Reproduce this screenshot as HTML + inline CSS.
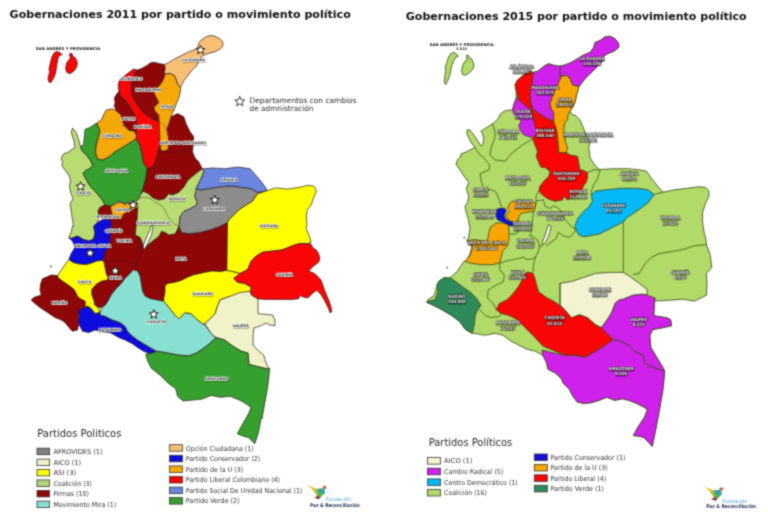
<!DOCTYPE html>
<html><head><meta charset="utf-8"><title>Gobernaciones 2011 y 2015</title>
<style>
html,body{margin:0;padding:0;background:#fff;}
svg{display:block;}
.t{font-family:"DejaVu Sans","Liberation Sans",sans-serif;}
.lab{font-family:"DejaVu Sans",sans-serif;font-weight:bold;font-size:3.6px;fill:#3a3a3a;stroke:#fff;stroke-width:1.3px;stroke-opacity:0.9;paint-order:stroke;text-anchor:middle;dominant-baseline:central;}
.labs{font-family:"DejaVu Sans",sans-serif;font-weight:bold;font-size:3.6px;fill:#000;stroke:#000;stroke-width:1.3px;opacity:0.35;text-anchor:middle;dominant-baseline:central;}
.lab2{font-family:"DejaVu Sans Condensed","DejaVu Sans",sans-serif;font-weight:bold;font-size:4.3px;fill:#f4f4f4;fill-opacity:0.8;stroke:#383838;stroke-width:0.75px;stroke-opacity:0.8;paint-order:stroke;text-anchor:middle;}
.lab2s{font-family:"DejaVu Sans Condensed","DejaVu Sans",sans-serif;font-weight:bold;font-size:4.3px;fill:#000;stroke:#000;stroke-width:1.3px;opacity:0.4;text-anchor:middle;}
.leg{font-family:"DejaVu Sans",sans-serif;font-size:7.6px;fill:#2a2a2a;}
.li{font-family:"DejaVu Sans",sans-serif;font-size:6.8px;fill:#333;}
</style></head><body>
<svg width="768" height="527" viewBox="0 0 768 527">
<defs><filter id="sb" x="-20%" y="-50%" width="140%" height="200%"><feGaussianBlur stdDeviation="0.45"/></filter></defs>
<filter id="soft" x="0" y="0" width="768" height="527" filterUnits="userSpaceOnUse" color-interpolation-filters="sRGB"><feConvolveMatrix order="3" kernelMatrix="1 2 1 2 8 2 1 2 1" edgeMode="duplicate"/></filter>
<rect width="768" height="527" fill="#fff"/>
<g filter="url(#soft)">

<text class="t" x="9.6" y="18" font-size="11.05" font-weight="bold" fill="#111" textLength="341.2" lengthAdjust="spacingAndGlyphs">Gobernaciones 2011 por partido o movimiento político</text>
<text class="t" x="405.7" y="19.7" font-size="11.05" font-weight="bold" fill="#111" textLength="341" lengthAdjust="spacingAndGlyphs">Gobernaciones 2015 por partido o movimiento político</text>
<g stroke="#2a1a1a" stroke-width="0.7" stroke-linejoin="round">
<polygon fill="#f90505" points="56.60,51.40 59.40,52.30 62.30,54.70 60.40,55.20 58.50,56.60 57.50,60.90 56.60,66.60 55.60,73.20 53.70,78.00 50.90,82.70 48.50,81.80 48.00,78.00 49.50,72.30 49.00,68.50 50.40,62.80 51.80,57.10 54.20,52.80"/>
<polygon fill="#f90505" points="69.90,53.30 72.30,53.80 72.70,56.10 75.60,58.00 77.50,62.80 76.50,67.50 73.70,71.30 69.90,73.70 66.60,72.30 65.60,68.50 66.60,62.80 68.90,60.00 70.40,57.60 69.40,55.20"/>
<polygon fill="#b9dc72" points="72.50,128.10 76.25,132.50 78.75,140.00 80.50,146.40 82.00,150.60 86.30,154.90 90.50,160.20 92.70,165.50 89.50,168.70 85.20,170.80 83.10,172.90 84.20,176.10 86.30,179.30 88.40,183.50 91.60,187.80 95.80,192.00 99.00,196.00 102.50,200.00 105.00,205.00 100.00,207.50 98.10,211.25 99.40,216.25 97.50,222.50 93.75,226.00 95.00,233.50 93.75,238.50 90.00,241.00 83.75,239.75 77.50,236.00 71.25,238.50 68.75,237.25 71.25,232.25 72.50,226.00 73.75,226.25 72.50,220.00 71.25,211.25 70.00,203.75 73.10,198.75 70.60,192.50 69.40,186.25 70.60,180.00 68.75,175.00 65.00,170.00 62.00,166.00 62.50,162.50 61.25,157.50 63.75,153.75 67.50,152.50 75.00,147.50 73.75,140.00 71.25,132.50"/>
<polygon fill="#35a02e" points="85.00,129.40 90.00,127.50 96.25,123.00 97.50,125.00 100.00,130.00 98.75,136.25 96.25,145.00 95.60,152.50 97.50,158.75 102.50,160.00 110.00,156.25 113.75,152.50 120.00,148.75 126.25,145.00 132.50,141.25 136.50,137.80 137.50,141.00 140.00,145.00 142.25,155.00 143.50,162.50 147.25,168.75 146.00,177.50 143.50,187.50 141.00,193.75 138.50,198.75 136.25,201.25 130.00,201.25 125.00,203.75 120.00,201.25 116.25,202.50 110.00,206.25 105.00,205.00 102.50,200.00 99.00,196.00 95.80,192.00 91.60,187.80 88.40,183.50 86.30,179.30 84.20,176.10 83.10,172.90 85.20,170.80 89.50,168.70 92.70,165.50 90.50,160.20 86.30,154.90 82.00,150.60 80.50,146.40 83.50,145.00 84.00,140.00 84.50,135.00"/>
<polygon fill="#f5a80a" points="106.25,110.00 112.50,108.75 116.25,110.60 121.25,115.00 122.50,121.25 125.00,126.25 128.75,130.00 135.00,131.25 136.30,133.50 136.50,137.80 132.50,141.25 126.25,145.00 120.00,148.75 113.75,152.50 110.00,156.25 102.50,160.00 97.50,158.75 95.60,152.50 96.25,145.00 98.75,136.25 100.00,130.00 97.50,125.00 97.50,122.50 101.25,120.00 104.00,114.00"/>
<polygon fill="#8e0606" points="118.90,91.50 121.20,96.80 125.50,100.60 129.50,105.90 132.00,110.40 134.50,114.00 136.20,119.00 136.50,125.00 136.40,130.00 136.30,133.50 135.60,134.00 135.00,131.25 128.75,130.00 125.00,126.25 122.50,121.25 121.25,115.00 116.25,110.60 115.90,109.70 114.30,105.90 115.10,102.80 114.30,98.30 115.90,95.20 117.50,93.00"/>
<polygon fill="#f90505" points="120.25,79.10 125.90,74.75 133.40,69.10 137.10,70.00 134.00,75.00 132.00,81.60 131.50,89.00 132.50,96.00 135.00,101.00 138.50,106.00 141.00,110.00 143.50,112.50 148.30,115.90 152.80,119.00 157.40,120.50 159.70,122.80 160.40,130.30 160.50,133.00 160.00,145.50 158.50,150.00 156.60,157.50 154.75,163.75 151.00,167.50 147.25,168.75 143.50,162.50 142.25,155.00 140.00,145.00 137.50,141.00 136.50,137.80 136.30,133.50 136.40,130.00 136.50,125.00 136.20,119.00 134.50,114.00 132.00,110.40 129.50,105.90 125.50,100.60 121.20,96.80 118.90,91.50 118.10,86.10 118.90,81.60"/>
<polygon fill="#8e0606" points="137.10,70.00 141.50,68.50 147.10,65.40 150.25,62.90 154.00,62.25 160.25,63.75 164.60,64.50 165.25,68.50 164.00,73.50 165.25,74.10 162.75,81.00 159.00,86.00 155.25,90.40 153.75,92.00 155.00,95.00 158.75,102.50 153.75,107.50 155.00,111.25 158.75,115.00 159.70,122.80 157.40,120.50 152.80,119.00 148.30,115.90 143.50,112.50 141.00,110.00 138.50,106.00 135.00,101.00 132.50,96.00 131.50,89.00 132.00,81.60 134.00,75.00"/>
<polygon fill="#f8c074" points="198.90,43.00 201.00,40.20 205.10,37.50 207.80,36.10 211.90,35.50 216.00,36.80 220.10,38.90 222.80,42.30 222.80,46.40 220.10,49.10 214.60,51.90 209.20,53.20 205.10,54.60 201.00,57.30 198.30,62.80 195.50,66.90 191.40,71.00 187.30,76.40 183.90,80.50 181.90,84.60 180.50,87.40 177.80,84.60 176.40,80.50 175.00,76.40 170.90,73.70 166.80,73.70 165.25,74.10 164.00,73.50 165.25,68.50 164.60,64.50 168.20,62.80 173.70,59.40 180.50,56.00 187.30,52.50 192.80,50.50 197.60,47.80"/>
<polygon fill="#8e0606" points="159.00,121.00 166.90,129.25 170.00,120.50 171.25,116.75 177.50,113.60 181.25,115.50 183.75,116.75 186.25,124.25 190.00,131.75 193.75,136.75 193.10,145.50 192.50,151.75 195.00,158.00 198.75,161.75 201.25,166.75 202.25,168.75 197.25,172.50 191.00,177.50 187.25,181.25 183.50,187.50 178.50,192.50 172.25,195.00 168.50,193.75 164.75,198.75 158.50,200.00 152.25,197.50 148.50,193.75 143.50,191.25 141.00,193.75 143.50,187.50 146.00,177.50 147.25,168.75 151.00,167.50 154.75,163.75 156.60,157.50 158.50,150.00 160.00,145.50 160.50,133.00 160.00,127.00"/>
<polygon fill="#f5a80a" points="165.25,74.10 166.80,73.70 170.90,73.70 175.00,76.40 176.40,80.50 177.80,84.60 180.50,87.40 180.50,91.00 179.00,97.25 176.50,103.50 174.00,109.75 171.25,115.50 170.00,120.50 166.90,129.25 168.10,135.50 168.75,140.50 168.75,146.75 166.90,150.50 162.50,151.10 160.60,149.25 160.00,139.25 159.40,126.75 159.00,121.00 158.75,115.00 155.00,111.25 153.75,107.50 158.75,102.50 155.00,95.00 153.75,92.00 155.25,90.40 159.00,86.00 162.75,81.00"/>
<polygon fill="#8e0606" points="98.10,211.25 100.00,207.50 105.00,205.00 110.00,206.25 137.50,205.00 137.75,207.50 137.10,218.75 135.90,227.50 135.25,235.00 140.25,237.50 142.75,243.75 144.00,250.00 147.75,245.00 154.00,240.00 159.00,236.25 161.50,231.25 165.25,232.50 169.00,235.00 175.25,233.75 177.75,228.75 179.00,226.25 181.50,232.50 189.00,233.75 199.90,232.50 210.00,230.00 220.00,226.25 227.50,222.50 227.50,270.40 220.00,271.60 212.50,271.00 205.00,272.25 200.00,273.50 193.75,274.75 187.50,277.25 181.25,280.40 175.00,282.25 167.50,283.50 165.00,286.00 165.00,292.25 163.75,298.50 163.75,301.90 160.00,301.25 152.50,300.00 145.00,296.00 142.50,291.00 141.25,283.50 140.00,276.00 137.50,271.00 133.10,269.75 130.00,273.50 125.00,278.50 121.25,283.50 116.25,288.50 111.25,294.75 107.50,301.90 105.30,305.00 100.00,308.00 94.80,305.00 93.80,300.00 91.70,294.80 91.70,289.60 95.90,284.40 101.10,281.30 106.30,280.20 108.40,278.20 106.30,274.00 105.30,268.80 104.20,263.60 103.20,260.40 105.00,250.00 108.75,248.50 110.00,238.50 111.25,229.75 111.25,222.50 108.75,218.75 103.75,218.10 99.40,216.25"/>
<polygon fill="#f5a80a" points="110.25,206.50 116.50,203.40 120.25,202.20 125.00,204.40 130.00,202.50 136.50,203.40 137.75,207.50 132.75,210.00 127.50,211.80 122.75,215.00 121.50,220.00 117.75,217.50 112.50,216.25 111.25,211.25"/>
<polygon fill="#0c0cdc" points="108.75,218.75 111.25,222.50 110.50,230.00 110.00,238.50 108.75,248.50 105.30,250.00 104.20,256.30 103.20,260.40 96.90,261.00 91.70,263.00 86.50,264.60 79.20,264.10 72.90,262.50 68.80,259.40 71.25,253.50 75.00,247.25 72.50,241.00 68.75,237.90 71.25,238.50 77.50,236.00 83.75,239.75 90.00,241.00 93.75,238.50 95.00,233.50 93.75,226.00 97.50,222.50 102.50,219.40"/>
<polygon fill="#ffff00" points="68.80,259.40 72.90,262.50 79.20,264.10 86.50,264.60 91.70,263.00 96.90,261.00 103.20,260.40 104.20,263.60 105.30,268.80 106.30,274.00 108.40,278.20 106.30,280.20 101.10,281.30 95.90,284.40 91.70,289.60 91.70,294.80 93.80,300.00 94.80,305.00 98.75,308.50 100.00,312.50 95.00,313.75 91.25,308.75 87.50,306.25 85.00,307.50 85.00,301.25 80.00,298.75 77.10,295.90 74.00,289.60 68.80,285.50 62.50,281.30 57.30,277.10 59.40,272.90 63.60,266.70"/>
<polygon fill="#8e0606" points="57.50,275.50 51.25,275.00 42.50,278.75 40.60,283.75 40.00,290.00 41.25,295.00 33.75,297.50 31.25,300.00 33.75,302.50 40.00,307.50 47.50,312.50 55.00,317.50 61.25,320.00 65.00,322.50 70.00,328.75 72.50,331.25 77.50,330.00 78.75,323.75 78.10,315.00 81.25,308.75 85.00,307.50 85.00,301.25 80.00,298.75 77.10,295.90 74.00,289.60 68.80,285.50 62.50,281.30 57.30,277.10"/>
<polygon fill="#0c0cdc" points="78.75,311.25 81.25,308.75 85.00,307.50 87.50,306.25 91.25,308.75 95.00,313.75 100.00,312.50 100.00,315.00 105.00,316.25 112.50,320.00 120.00,322.50 125.00,326.25 127.50,331.25 132.50,336.25 137.50,340.00 143.75,343.75 150.00,347.50 156.00,351.50 150.00,353.75 143.75,351.25 137.50,347.50 132.50,343.75 125.00,340.00 118.75,337.50 110.00,332.50 100.00,331.25 95.00,330.00 88.75,332.50 82.50,331.25 78.75,323.75"/>
<polygon fill="#88e0d2" points="100.00,312.50 102.00,308.00 105.30,305.00 107.50,301.90 111.25,294.75 116.25,288.50 121.25,283.50 125.00,278.50 130.00,273.50 133.10,269.75 137.50,271.00 140.00,276.00 141.25,283.50 142.50,291.00 145.00,296.00 150.00,298.50 156.25,299.75 162.50,301.00 165.00,302.00 166.25,303.75 170.00,308.75 175.00,315.00 178.75,318.75 185.00,312.50 191.25,313.75 196.25,318.75 202.50,323.75 205.00,325.00 208.75,330.00 212.50,335.00 216.25,337.50 209.50,343.80 202.00,349.40 196.30,353.10 188.80,356.00 177.60,355.00 168.20,353.10 156.90,351.30 150.00,347.50 143.75,343.75 137.50,340.00 132.50,336.25 127.50,331.25 125.00,326.25 120.00,322.50 112.50,320.00 105.00,316.25 100.00,315.00"/>
<polygon fill="#b9dc72" points="136.25,201.25 138.50,198.75 141.00,193.75 143.50,191.25 148.50,193.75 152.25,197.50 158.50,200.00 164.75,198.75 168.50,193.75 172.25,195.00 178.50,192.50 183.50,187.50 187.25,181.25 191.00,177.50 197.25,172.50 202.25,168.75 204.10,171.25 201.00,178.75 197.25,186.25 196.00,191.25 194.75,196.25 197.25,202.50 196.50,205.00 190.25,208.75 184.00,211.25 180.25,216.25 179.00,226.25 177.75,228.75 175.25,233.75 169.00,235.00 165.25,232.50 161.50,231.25 159.00,236.25 154.00,240.00 147.75,245.00 144.00,250.00 142.75,243.75 140.25,237.50 135.25,235.00 135.90,227.50 137.10,218.75 137.75,207.50"/>
<polygon fill="#6a86e0" points="202.25,168.75 204.10,168.75 212.50,168.00 225.00,168.75 237.50,167.00 250.00,168.75 260.00,180.00 263.75,185.00 267.50,190.60 262.50,191.90 257.50,192.50 251.25,188.75 241.25,187.50 232.50,186.25 226.00,186.25 217.25,187.50 208.50,188.75 201.00,190.00 196.00,188.75 201.00,178.75 204.10,171.25"/>
<polygon fill="#8c8c8c" points="196.00,188.75 201.00,190.00 208.50,188.75 217.25,187.50 226.00,186.25 232.50,186.25 241.25,187.50 251.25,188.75 257.50,192.50 262.50,191.90 267.50,191.25 257.50,193.75 252.50,201.25 246.25,205.00 238.75,210.00 233.75,215.00 228.75,220.00 227.50,222.50 220.00,226.25 210.00,230.00 199.90,232.50 189.00,233.75 181.50,232.50 179.00,226.25 180.25,216.25 184.00,211.25 190.25,208.75 196.50,205.00 197.25,202.50 194.75,196.25 196.00,191.25"/>
<polygon fill="#ffff00" points="267.50,190.60 275.00,188.10 276.25,187.90 287.50,189.10 300.00,187.25 307.50,185.40 313.75,186.00 315.60,188.50 316.25,192.25 313.75,197.25 311.25,204.75 307.50,209.75 306.25,216.00 306.90,223.50 306.25,228.50 308.75,234.75 311.25,241.90 307.50,243.50 300.00,243.50 292.50,246.00 282.50,249.75 272.50,251.00 262.50,252.25 256.25,256.00 251.25,261.00 247.50,269.75 240.00,273.50 235.00,272.25 226.90,270.40 227.50,222.50 228.75,220.00 233.75,215.00 238.75,210.00 246.25,205.00 252.50,201.25 257.50,193.75"/>
<polygon fill="#ffff00" points="163.75,301.90 163.75,298.50 165.00,292.25 165.00,286.00 167.50,283.50 175.00,282.25 181.25,280.40 187.50,277.25 193.75,274.75 200.00,273.50 205.00,272.25 212.50,271.00 220.00,271.60 226.90,270.40 235.00,272.25 240.00,273.50 233.75,278.50 237.50,282.25 245.00,283.50 251.25,287.25 251.25,291.00 245.00,293.50 232.50,297.25 230.00,296.25 220.00,300.00 217.50,306.25 215.00,313.75 210.00,318.75 205.00,323.75 202.50,323.75 196.25,318.75 191.25,313.75 185.00,312.50 178.75,318.75 175.00,315.00 170.00,308.75 166.25,303.75"/>
<polygon fill="#f90505" points="233.75,278.50 240.00,273.50 247.50,269.75 251.25,261.00 256.25,256.00 262.50,252.25 272.50,251.00 276.00,251.00 282.30,249.80 288.50,247.30 294.80,244.80 301.00,243.50 307.30,244.10 310.50,243.50 313.60,248.50 316.10,249.80 318.60,253.50 319.90,258.60 318.60,262.30 313.60,266.00 308.60,271.10 313.60,273.00 317.40,276.10 321.00,280.00 324.60,290.30 328.50,299.40 331.10,307.20 331.80,311.80 329.80,312.50 328.50,308.60 324.60,300.70 320.70,294.20 316.80,290.30 312.90,292.90 307.70,298.10 302.50,296.80 299.90,295.50 298.60,298.80 292.10,299.40 279.00,299.40 266.00,299.40 256.90,298.80 251.70,295.50 250.40,291.60 251.25,287.25 245.00,283.50 237.50,282.25"/>
<polygon fill="#f0f2c8" points="205.00,323.75 210.00,318.75 215.00,313.75 217.50,306.25 220.00,300.00 230.00,296.25 240.00,292.50 250.00,291.25 251.25,295.00 257.50,298.75 258.10,300.00 258.10,313.75 272.50,315.00 275.00,320.00 275.00,325.60 270.00,325.00 266.25,323.10 261.25,325.60 253.75,328.10 253.10,335.00 253.10,345.00 257.50,350.00 263.75,355.00 265.00,360.00 267.50,365.90 269.60,369.10 263.90,368.20 256.40,366.30 248.90,364.40 248.00,353.10 241.40,351.30 232.00,345.60 224.50,340.00 216.25,337.50 212.50,335.00 208.75,330.00"/>
<polygon fill="#35a02e" points="145.60,354.10 150.00,353.75 156.00,351.50 156.90,351.30 168.20,353.10 177.60,355.00 188.80,356.00 196.30,353.10 202.00,349.40 209.50,343.80 216.25,337.50 224.50,340.00 232.00,345.60 241.40,351.30 248.00,353.10 248.90,364.40 256.40,366.30 263.90,368.20 269.60,369.10 269.60,370.00 267.70,387.00 264.90,402.00 262.00,418.90 261.00,418.75 258.50,432.50 254.75,443.75 248.50,437.50 243.50,436.25 237.25,433.75 243.50,422.50 248.50,413.75 251.00,407.50 246.00,403.75 239.50,400.10 230.10,396.30 220.70,397.30 211.30,395.40 202.00,399.10 192.60,400.10 183.20,401.00 177.60,396.30 175.70,388.80 168.20,383.20 160.70,375.70 151.30,368.20 147.50,360.70"/>
<polygon fill="#ffffff" points="151.50,225.00 153.40,225.00 151.50,235.00 150.00,238.00 148.75,241.00 146.25,246.00 144.40,249.75 143.10,246.00 145.00,241.00 147.10,236.00 149.00,232.00 150.90,227.50"/>
</g>
<g fill="none" stroke="#2a1a1a" stroke-width="0.5" stroke-linejoin="round" opacity="0.8">
<polyline points="138.50,199.00 142.25,197.50 148.50,197.50 156.00,202.50 161.00,205.00 165.00,210.00 167.50,216.00 171.00,221.00 175.00,224.50 179.00,226.25"/>
<polyline points="159.00,121.00 166.90,129.25"/>
<polyline points="162.00,151.00 170.00,153.00 180.00,151.00 188.00,150.00 193.00,148.00"/>
<polyline points="136.25,236.00 141.25,248.50 140.00,254.75 137.50,261.00 135.00,267.25 133.10,269.75"/>
<polyline points="104.50,261.00 112.00,262.00 120.00,260.00 128.00,262.00 135.00,265.00"/>
<polyline points="111.90,213.75 111.25,222.50"/>
<polyline points="110.50,230.00 118.00,228.00 121.50,220.00"/>
<polyline points="122.00,126.00 128.00,124.00"/>
</g>
<g stroke="#3b4d1c" stroke-width="0.85" stroke-linejoin="round">
<polygon fill="#b2da68" points="512.50,110.00 514.00,104.00 516.00,99.00 516.25,91.25 515.00,85.00 517.50,80.00 523.75,75.00 530.00,70.60 533.10,72.50 537.50,71.25 545.00,65.60 548.75,63.75 552.50,65.00 558.75,66.25 565.00,65.00 571.25,62.50 577.50,58.75 583.75,55.00 590.00,52.50 593.75,47.50 595.00,42.50 600.00,40.60 605.00,36.90 610.00,36.25 615.00,38.75 618.75,43.75 618.75,47.50 613.75,51.25 607.50,53.75 603.70,56.00 603.70,59.40 601.00,62.80 596.90,66.90 592.80,71.00 588.70,75.10 584.60,79.20 580.50,84.60 578.50,87.50 576.25,96.25 575.00,102.50 572.50,107.50 570.00,111.25 572.50,115.00 575.00,115.00 577.50,117.50 580.00,120.00 583.75,128.75 586.25,135.00 590.00,142.50 588.75,147.50 590.00,157.50 593.75,163.75 596.00,166.50 599.40,169.50 613.40,168.75 627.50,168.75 636.90,169.50 646.25,171.10 652.50,179.70 658.75,187.50 663.40,192.20 674.40,189.80 686.90,188.30 699.40,186.70 705.60,187.50 708.75,190.60 709.00,196.00 705.60,203.10 702.50,212.50 702.50,221.90 704.00,232.00 706.00,240.00 706.50,244.70 710.40,255.60 711.80,267.50 706.50,273.40 707.00,285.00 706.50,295.20 698.50,299.20 694.60,301.10 682.70,299.20 670.80,300.10 655.00,301.10 654.70,298.00 653.80,315.80 666.60,317.80 670.60,319.70 671.60,325.70 662.70,327.70 652.80,329.60 649.80,335.60 650.80,347.50 656.70,357.30 662.70,367.20 664.60,371.20 663.90,380.00 662.70,391.00 660.00,406.60 655.30,431.60 652.20,446.40 644.40,437.80 639.70,436.25 633.40,435.50 638.10,426.90 644.40,417.50 647.50,409.70 644.40,407.30 636.60,403.40 628.75,400.30 622.50,398.75 614.70,400.30 606.90,397.20 599.00,400.30 591.25,402.70 583.40,403.40 577.20,401.90 572.50,395.60 569.40,389.40 563.10,383.10 561.70,379.10 555.80,373.20 547.90,369.20 546.70,363.00 542.70,355.10 534.80,351.10 526.90,349.20 519.00,345.20 511.00,341.20 503.10,335.30 495.20,333.30 485.30,335.30 474.40,333.30 471.50,333.30 465.50,329.40 459.60,321.45 451.70,315.50 441.80,309.60 431.90,304.60 426.90,302.70 427.90,299.70 433.85,295.70 435.80,289.80 437.80,283.85 443.75,278.90 448.10,278.75 452.80,275.60 457.50,271.00 460.60,266.25 463.75,261.60 466.90,260.00 470.00,253.75 471.60,247.50 470.00,242.80 466.90,239.70 468.40,238.10 470.00,228.75 468.40,219.40 466.25,212.50 465.00,206.25 467.50,202.50 468.75,196.25 466.25,188.75 468.75,182.50 465.00,177.50 460.00,170.00 456.00,164.00 457.50,160.00 460.00,157.50 461.25,153.75 465.00,152.50 470.00,150.00 475.00,147.50 471.50,143.00 469.00,138.50 467.00,134.00 466.90,131.00 467.90,129.40 469.90,130.00 473.30,134.20 476.00,138.30 478.80,142.30 480.20,145.00 481.50,145.60 482.90,143.70 483.60,138.30 482.20,132.80 480.80,131.20 483.00,130.00 487.00,127.30 492.40,123.90 497.90,119.10 500.60,113.70 504.70,110.90 510.00,110.00"/>
<polygon fill="#b2da68" points="453.70,52.30 456.60,54.30 458.10,56.30 455.60,57.30 453.70,60.75 451.70,65.70 450.70,70.65 449.70,75.60 447.70,80.55 445.70,84.50 444.30,82.50 444.75,76.60 445.70,70.65 445.20,67.70 446.70,62.70 448.70,56.80 450.70,53.80"/>
<polygon fill="#b2da68" points="466.50,55.30 468.50,55.30 468.50,57.30 471.50,58.80 473.50,62.70 474.00,65.70 472.50,69.70 469.50,72.60 465.50,75.10 462.60,74.60 461.60,70.65 462.60,65.70 464.55,61.70 467.50,59.80 466.50,57.80"/>
<polygon fill="#d020ec" points="595.00,42.50 600.00,40.60 605.00,36.90 610.00,36.25 615.00,38.75 618.75,43.75 618.75,47.50 613.75,51.25 607.50,53.75 603.70,56.00 603.70,59.40 601.00,62.80 596.90,66.90 592.80,71.00 588.70,75.10 584.60,79.20 580.50,84.60 578.50,87.50 577.50,86.25 572.50,85.00 570.60,80.00 567.50,75.60 562.50,76.25 560.00,76.25 560.00,67.50 558.75,66.25 565.00,65.00 571.25,62.50 577.50,58.75 583.75,55.00 590.00,52.50 593.75,47.50"/>
<polygon fill="#d020ec" points="533.10,72.50 537.50,71.25 545.00,65.60 548.75,63.75 552.50,65.00 558.75,66.25 560.00,67.50 560.00,76.25 561.25,76.25 558.75,82.50 555.00,90.00 552.50,96.25 550.00,103.75 551.25,108.75 553.75,112.50 553.75,121.25 547.50,118.75 541.25,115.00 534.00,110.00 532.50,108.75 530.60,101.25 530.00,95.00 531.25,87.50 532.50,80.00"/>
<polygon fill="#d020ec" points="518.00,97.50 520.00,101.00 525.00,105.00 531.25,110.00 532.50,116.25 536.90,132.50 535.00,137.50 531.25,137.50 523.75,135.00 520.00,130.00 518.75,125.00 521.25,121.25 517.50,117.50 513.75,113.75 512.50,110.00 514.00,104.00 516.00,99.00"/>
<polygon fill="#f90505" points="530.00,70.60 533.10,72.50 532.50,80.00 531.25,87.50 530.00,95.00 530.60,101.25 532.50,108.75 534.00,110.00 541.25,115.00 547.50,118.75 553.75,121.25 556.25,128.75 557.50,135.00 558.10,142.50 558.75,148.75 558.75,152.50 563.75,152.50 566.25,152.50 570.00,155.00 577.50,156.25 578.75,162.50 580.00,170.00 582.50,170.00 587.50,172.50 587.50,177.50 586.25,182.50 583.75,185.00 582.50,188.75 578.75,193.75 572.50,197.50 567.50,200.00 563.75,196.25 562.50,200.00 555.00,201.25 547.50,198.75 542.50,195.00 538.75,191.25 540.00,186.25 543.75,181.25 548.75,176.25 550.00,171.25 545.00,167.50 541.25,167.50 538.75,162.50 536.25,156.25 537.50,151.25 535.00,145.00 532.50,138.75 536.90,132.50 532.50,116.25 531.25,110.00 525.00,105.00 520.00,101.00 518.00,97.50 516.25,91.25 515.00,85.00 517.50,80.00 523.75,75.00"/>
<polygon fill="#f8a500" points="562.50,76.25 567.50,75.60 570.60,80.00 572.50,85.00 577.50,86.25 578.75,87.50 576.25,96.25 575.00,102.50 572.50,107.50 570.00,111.25 568.10,115.00 567.50,120.00 565.00,122.50 563.75,128.75 564.40,135.00 565.60,142.50 567.50,147.50 566.25,152.50 563.75,152.50 558.75,152.50 558.75,148.75 558.10,142.50 557.50,135.00 556.25,128.75 553.75,121.25 553.75,112.50 551.25,108.75 550.00,103.75 552.50,96.25 555.00,90.00 558.75,82.50 561.25,76.25"/>
<polygon fill="#05b8f8" points="575.00,225.90 577.50,218.75 582.50,212.50 588.50,207.25 592.50,201.25 591.25,195.00 595.00,191.25 605.60,189.80 621.25,188.30 636.90,188.30 647.80,189.80 654.00,194.50 647.80,203.10 636.90,211.00 627.50,217.20 623.30,222.00 611.50,227.90 599.60,233.90 583.75,236.80 578.50,234.75 575.80,229.00"/>
<polygon fill="#f8a500" points="509.75,203.50 512.25,201.00 518.50,201.60 527.25,201.00 533.50,202.25 536.00,203.50 534.75,208.50 533.50,211.60 527.25,212.25 521.00,213.50 519.10,216.00 518.50,219.75 514.75,222.25 512.25,222.25 508.50,219.75 506.00,216.00 507.25,213.50 509.75,211.00 507.25,208.50"/>
<polygon fill="#1010d8" points="496.20,210.25 498.25,208.60 501.60,208.00 504.50,208.20 505.75,209.40 506.20,211.50 504.90,213.60 504.50,216.10 505.75,219.00 508.70,220.70 511.60,221.50 514.00,222.30 515.30,224.00 515.30,226.00 509.50,226.00 505.75,224.40 502.40,221.90 498.25,220.25 496.20,217.75 495.75,214.40"/>
<polygon fill="#f8a500" points="466.90,240.50 474.70,239.70 487.20,241.25 488.75,233.40 490.30,227.20 496.00,223.00 503.50,223.00 508.50,225.00 509.00,232.00 509.00,239.70 507.50,246.00 502.80,250.60 501.25,256.90 499.70,263.10 491.90,264.70 480.90,264.70 470.00,263.10 465.30,261.60 470.00,255.30 473.10,247.50 470.00,242.80"/>
<polygon fill="#2e8a5a" points="436.90,284.80 438.75,281.00 444.40,277.30 451.00,278.20 457.50,283.00 465.00,288.50 470.60,292.30 476.25,298.00 481.00,305.40 478.10,309.20 475.30,314.80 474.40,324.20 472.50,332.60 465.50,329.40 459.60,321.45 451.70,315.50 441.80,309.60 431.90,304.60 426.60,301.60 435.00,299.80 437.80,292.30"/>
<polygon fill="#f3f3d2" points="560.00,283.30 571.90,281.35 583.75,277.40 595.60,273.40 609.50,272.40 623.30,272.40 631.20,277.40 639.20,283.30 647.10,289.30 647.10,295.20 643.10,294.20 633.20,295.20 623.30,299.20 619.10,300.00 615.40,303.10 611.50,313.00 607.00,320.00 601.30,327.70 595.40,324.70 587.50,317.80 579.50,314.80 571.60,317.80 562.50,307.60 560.00,305.00 560.00,295.00"/>
<polygon fill="#f90505" points="522.90,277.90 526.90,272.00 532.80,273.00 534.80,277.90 536.80,285.80 538.70,291.80 546.70,297.70 554.60,301.70 562.50,307.60 571.60,317.80 579.50,314.80 587.50,317.80 595.40,324.70 601.30,327.70 607.20,333.60 613.20,339.50 605.30,345.50 595.40,351.40 585.50,357.30 575.60,355.40 565.70,355.40 554.60,351.00 542.70,346.00 534.80,337.30 528.85,331.35 522.90,325.40 517.00,319.50 509.00,315.50 501.10,313.50 496.20,309.60 499.20,303.60 507.10,299.70 513.00,293.70 519.00,285.80"/>
<polygon fill="#d020ec" points="601.30,327.70 607.00,320.00 611.50,313.00 615.40,303.10 619.10,300.00 623.30,299.20 633.20,295.20 643.10,294.20 647.10,295.20 654.70,298.00 653.80,315.80 666.60,317.80 670.60,319.70 671.60,325.70 662.70,327.70 652.80,329.60 649.80,335.60 650.80,347.50 656.70,357.30 662.70,367.20 664.60,371.20 652.80,367.20 644.80,363.30 642.90,355.40 635.00,351.40 629.00,345.50 621.10,341.50 613.20,339.50 607.20,333.60"/>
<polygon fill="#d020ec" points="542.00,350.00 547.90,351.40 555.80,353.40 565.70,355.40 575.60,355.40 585.50,357.30 595.40,351.40 605.30,345.50 613.20,339.50 621.10,341.50 629.00,345.50 635.00,351.40 642.90,355.40 644.80,363.30 652.80,367.20 664.60,371.20 663.90,380.00 662.70,391.00 660.00,406.60 655.30,431.60 652.20,446.40 644.40,437.80 639.70,436.25 633.40,435.50 638.10,426.90 644.40,417.50 647.50,409.70 644.40,407.30 636.60,403.40 628.75,400.30 622.50,398.75 614.70,400.30 606.90,397.20 599.00,400.30 591.25,402.70 583.40,403.40 577.20,401.90 572.50,395.60 569.40,389.40 563.10,383.10 561.70,379.10 555.80,373.20 547.90,369.20 546.70,363.00 542.70,355.10"/>
<polygon fill="#ffffff" points="548.50,224.75 551.00,226.00 549.75,232.25 547.25,238.50 544.75,243.50 542.25,244.75 542.90,241.00 545.40,234.75 547.25,228.50"/>
</g>
<g fill="none" stroke="#3d5c18" stroke-width="0.85" stroke-linejoin="round">
<polyline points="492.50,123.75 495.00,131.25 495.00,137.50 491.25,147.50 490.00,155.00 495.00,160.00 505.00,161.25 511.25,153.75 515.90,150.00 522.50,145.00 528.75,141.25 532.50,138.75"/>
<polyline points="475.00,147.50 478.75,153.75 483.75,157.50 487.50,162.50 490.00,165.00 488.75,170.00 480.00,173.75 481.25,181.25 483.75,188.75 492.50,190.00 496.25,192.50 498.75,198.75 501.25,206.25 502.25,207.25"/>
<polyline points="538.75,191.25 536.00,196.00 536.00,201.00 536.00,203.50"/>
<polyline points="536.00,201.00 543.50,199.75 544.75,206.00 549.75,208.50 553.50,206.00 557.25,207.25 561.00,211.00 563.50,217.25 567.25,222.25 572.25,227.25 575.80,229.00"/>
<polyline points="587.50,172.50 593.00,170.00 599.40,169.50"/>
<polyline points="600.00,170.00 597.50,178.75 593.75,185.00 591.25,191.25 591.25,195.00"/>
<polyline points="654.00,194.50 663.40,192.20"/>
<polyline points="546.00,246.00 551.00,242.25 556.00,238.50 558.50,232.25 563.50,236.00 569.75,237.25 573.50,233.50 575.80,229.00"/>
<polyline points="536.00,203.50 534.75,208.50 533.50,212.25 532.25,221.00 531.60,231.00 529.75,236.00 533.50,237.25 537.25,239.75 539.75,246.00 542.50,246.00"/>
<polyline points="539.75,246.00 538.50,251.00 536.00,256.00 534.00,262.00 533.00,272.00"/>
<polyline points="499.70,263.10 506.00,261.00 512.25,259.75 518.50,258.50 523.50,257.25 527.25,259.75 533.50,258.50 536.00,256.00"/>
<polyline points="518.50,219.75 518.00,226.00 520.00,230.00 516.00,234.00 509.00,234.00"/>
<polyline points="623.30,222.00 623.30,272.40"/>
<polyline points="633.20,274.40 639.20,273.40 645.10,263.50 651.00,257.60 659.00,253.60 670.80,251.70 682.70,249.70 694.60,245.70 706.50,244.70"/>
<polyline points="499.70,263.10 499.70,269.40 504.40,275.60 503.10,281.90 495.20,285.80 488.30,289.80 487.30,297.70 493.20,303.60 496.20,309.60"/>
<polyline points="479.40,309.60 485.30,315.50 491.20,317.50 499.20,316.50 501.10,313.50"/>
<polyline points="560.00,283.30 560.00,305.00"/>
</g>
<circle cx="50.9" cy="266.5" r="0.9" fill="#555"/>
<circle cx="447.2" cy="267.7" r="0.9" fill="#555"/>
<circle cx="464.3" cy="237.6" r="0.9" fill="#555"/>
<text class="labs" x="194.1" y="60.7">LA GUAJIRA</text>
<text class="lab" x="193.5" y="60">LA GUAJIRA</text>
<text class="labs" x="132.1" y="79.7">ATLÁNTICO</text>
<text class="lab" x="131.5" y="79">ATLÁNTICO</text>
<text class="labs" x="148.6" y="90.2">MAGDALENA</text>
<text class="lab" x="148" y="89.5">MAGDALENA</text>
<text class="labs" x="167.6" y="107.7">CESAR</text>
<text class="lab" x="167" y="107">CESAR</text>
<text class="labs" x="129.1" y="119.2">SUCRE</text>
<text class="lab" x="128.5" y="118.5">SUCRE</text>
<text class="labs" x="143.4" y="127.2">BOLÍVAR</text>
<text class="lab" x="142.8" y="126.5">BOLÍVAR</text>
<text class="labs" x="112.6" y="136.7">CÓRDOBA</text>
<text class="lab" x="112" y="136">CÓRDOBA</text>
<text class="labs" x="183.6" y="143.7">NORTE DE SANTANDER</text>
<text class="lab" x="183" y="143">NORTE DE SANTANDER</text>
<text class="labs" x="117.1" y="171.7">ANTIOQUIA</text>
<text class="lab" x="116.5" y="171">ANTIOQUIA</text>
<text class="labs" x="168.6" y="177.2">SANTANDER</text>
<text class="lab" x="168" y="176.5">SANTANDER</text>
<text class="labs" x="229.6" y="180.7">ARAUCA</text>
<text class="lab" x="229" y="180">ARAUCA</text>
<text class="labs" x="83.1" y="193.7">CHOCÓ</text>
<text class="lab" x="82.5" y="193">CHOCÓ</text>
<text class="labs" x="177.6" y="199.7">BOYACÁ</text>
<text class="lab" x="177" y="199">BOYACÁ</text>
<text class="labs" x="214.6" y="209.2">CASANARE</text>
<text class="lab" x="214" y="208.5">CASANARE</text>
<text class="labs" x="123.1" y="210.39999999999998">CALDAS</text>
<text class="lab" x="122.5" y="209.7">CALDAS</text>
<text class="labs" x="108.6" y="217.2">RISARALDA</text>
<text class="lab" x="108" y="216.5">RISARALDA</text>
<text class="labs" x="153.6" y="223.5">CUNDINAMARCA</text>
<text class="lab" x="153" y="222.8">CUNDINAMARCA</text>
<text class="labs" x="269.35" y="226.7">VICHADA</text>
<text class="lab" x="268.75" y="226">VICHADA</text>
<text class="labs" x="114.35" y="231.29999999999998">QUINDÍO</text>
<text class="lab" x="113.75" y="230.6">QUINDÍO</text>
<text class="labs" x="124.89999999999999" y="241.95">TOLIMA</text>
<text class="lab" x="124.3" y="241.25">TOLIMA</text>
<text class="labs" x="93.6" y="246.39999999999998">VALLE DEL CAUCA</text>
<text class="lab" x="93" y="245.7">VALLE DEL CAUCA</text>
<text class="labs" x="181.6" y="259.7">META</text>
<text class="lab" x="181" y="259">META</text>
<text class="labs" x="116.3" y="278.7">HUILA</text>
<text class="lab" x="115.7" y="278">HUILA</text>
<text class="labs" x="85.0" y="282.5">CAUCA</text>
<text class="lab" x="84.4" y="281.8">CAUCA</text>
<text class="labs" x="285.0" y="276.09999999999997">GUAINÍA</text>
<text class="lab" x="284.4" y="275.4">GUAINÍA</text>
<text class="labs" x="203.1" y="294.7">GUAVIARE</text>
<text class="lab" x="202.5" y="294">GUAVIARE</text>
<text class="labs" x="60.300000000000004" y="303.2">NARIÑO</text>
<text class="lab" x="59.7" y="302.5">NARIÑO</text>
<text class="labs" x="110.6" y="330.7">PUTUMAYO</text>
<text class="lab" x="110" y="330">PUTUMAYO</text>
<text class="labs" x="156.6" y="322.2">CAQUETÁ</text>
<text class="lab" x="156" y="321.5">CAQUETÁ</text>
<text class="labs" x="241.2" y="326.7">VAUPÉS</text>
<text class="lab" x="240.6" y="326">VAUPÉS</text>
<text class="labs" x="217.1" y="380.0">AMAZONAS</text>
<text class="lab" x="216.5" y="379.3">AMAZONAS</text>
<text x="35.7" y="49.6" font-family="DejaVu Sans, sans-serif" font-weight="bold" font-size="3.9" fill="#111" textLength="64.6" lengthAdjust="spacingAndGlyphs">SAN ANDRÉS Y PROVIDENCIA</text>
<polygon points="200.50,45.30 201.74,48.29 204.97,48.55 202.51,50.65 203.26,53.80 200.50,52.12 197.74,53.80 198.49,50.65 196.03,48.55 199.26,48.29" fill="#fff" stroke="#1a1a1a" stroke-width="1.0" stroke-linejoin="round"/>
<polygon points="80.60,181.80 81.84,184.79 85.07,185.05 82.61,187.15 83.36,190.30 80.60,188.62 77.84,190.30 78.59,187.15 76.13,185.05 79.36,184.79" fill="#fff" stroke="#1a1a1a" stroke-width="1.0" stroke-linejoin="round"/>
<polygon points="133.10,200.30 134.34,203.29 137.57,203.55 135.11,205.65 135.86,208.80 133.10,207.12 130.34,208.80 131.09,205.65 128.63,203.55 131.86,203.29" fill="#fff" stroke="#1a1a1a" stroke-width="1.0" stroke-linejoin="round"/>
<polygon points="214.75,195.30 215.99,198.29 219.22,198.55 216.76,200.65 217.51,203.80 214.75,202.12 211.99,203.80 212.74,200.65 210.28,198.55 213.51,198.29" fill="#fff" stroke="#1a1a1a" stroke-width="1.0" stroke-linejoin="round"/>
<polygon points="90.10,248.40 91.34,251.39 94.57,251.65 92.11,253.75 92.86,256.90 90.10,255.22 87.34,256.90 88.09,253.75 85.63,251.65 88.86,251.39" fill="#fff" stroke="#1a1a1a" stroke-width="1.0" stroke-linejoin="round"/>
<polygon points="115.20,266.20 116.44,269.19 119.67,269.45 117.21,271.55 117.96,274.70 115.20,273.01 112.44,274.70 113.19,271.55 110.73,269.45 113.96,269.19" fill="#fff" stroke="#1a1a1a" stroke-width="1.0" stroke-linejoin="round"/>
<polygon points="153.75,309.70 154.99,312.69 158.22,312.95 155.76,315.05 156.51,318.20 153.75,316.51 150.99,318.20 151.74,315.05 149.28,312.95 152.51,312.69" fill="#fff" stroke="#1a1a1a" stroke-width="1.0" stroke-linejoin="round"/>
<polygon points="239.75,96.40 241.13,99.71 244.70,99.99 241.98,102.32 242.81,105.81 239.75,103.94 236.69,105.81 237.52,102.32 234.80,99.99 238.37,99.71" fill="#fff" stroke="#222" stroke-width="0.9" stroke-linejoin="round"/>
<text class="leg" x="249.6" y="103" textLength="106.8" lengthAdjust="spacingAndGlyphs">Departamentos con cambios</text>
<text class="leg" x="249.6" y="110.5" textLength="63.7" lengthAdjust="spacingAndGlyphs">de admnistración</text>
<text class="leg" x="37.3" y="436.9" style="font-size:10.3px" textLength="84.1" lengthAdjust="spacingAndGlyphs">Partidos Politicos</text>
<rect x="37" y="448.2" width="12.6" height="6.5" fill="#808080" stroke="#383838" stroke-width="0.8"/>
<text class="li" x="53.4" y="454.0" textLength="49.2" lengthAdjust="spacingAndGlyphs">AFROVIDES (1)</text>
<rect x="37" y="459.1" width="12.6" height="6.5" fill="#f0f2c8" stroke="#383838" stroke-width="0.8"/>
<text class="li" x="53.4" y="464.9" textLength="27.6" lengthAdjust="spacingAndGlyphs">AICO (1)</text>
<rect x="37" y="469.4" width="12.6" height="6.5" fill="#ffff00" stroke="#383838" stroke-width="0.8"/>
<text class="li" x="53.4" y="475.2" textLength="22.9" lengthAdjust="spacingAndGlyphs">ASI (3)</text>
<rect x="37" y="479.9" width="12.6" height="6.5" fill="#b5d47a" stroke="#383838" stroke-width="0.8"/>
<text class="li" x="53.4" y="485.7" textLength="38.5" lengthAdjust="spacingAndGlyphs">Coalición (3)</text>
<rect x="37" y="490.4" width="12.6" height="6.5" fill="#8e0606" stroke="#383838" stroke-width="0.8"/>
<text class="li" x="53.4" y="496.2" textLength="35.7" lengthAdjust="spacingAndGlyphs">Firmas (10)</text>
<rect x="37" y="501.1" width="12.6" height="6.5" fill="#88e0d2" stroke="#383838" stroke-width="0.8"/>
<text class="li" x="53.4" y="506.9" textLength="62.7" lengthAdjust="spacingAndGlyphs">Movimiento Mira (1)</text>
<rect x="169.5" y="444.7" width="13" height="6.5" fill="#f8c074" stroke="#383838" stroke-width="0.8"/>
<text class="li" x="185.8" y="450.5" textLength="67.9" lengthAdjust="spacingAndGlyphs">Opción Ciudadana (1)</text>
<rect x="169.5" y="455.3" width="13" height="6.5" fill="#0c0cdc" stroke="#383838" stroke-width="0.8"/>
<text class="li" x="185.8" y="461.1" textLength="74.5" lengthAdjust="spacingAndGlyphs">Partido Conservador (2)</text>
<rect x="169.5" y="465.9" width="13" height="6.5" fill="#f5a80a" stroke="#383838" stroke-width="0.8"/>
<text class="li" x="185.8" y="471.7" textLength="57.4" lengthAdjust="spacingAndGlyphs">Partido de la U (3)</text>
<rect x="169.5" y="476.5" width="13" height="6.5" fill="#f90505" stroke="#383838" stroke-width="0.8"/>
<text class="li" x="185.8" y="482.3" textLength="94.2" lengthAdjust="spacingAndGlyphs">Partido Liberal Colombiano (4)</text>
<rect x="169.5" y="487.1" width="13" height="6.5" fill="#6a86e0" stroke="#383838" stroke-width="0.8"/>
<text class="li" x="185.8" y="492.9" textLength="116.5" lengthAdjust="spacingAndGlyphs">Partido Social De Unidad Nacional (1)</text>
<rect x="169.5" y="497.6" width="13" height="6.5" fill="#35a02e" stroke="#383838" stroke-width="0.8"/>
<text class="li" x="185.8" y="503.4" textLength="53.9" lengthAdjust="spacingAndGlyphs">Partido Verde (2)</text>
<text class="leg" x="428.75" y="445.7" style="font-size:10.3px" textLength="83.5" lengthAdjust="spacingAndGlyphs">Partidos Políticos</text>
<text class="lab2s" x="592.4" y="60.699999999999996">LA GUAJIRA</text><text class="lab2s" x="592.4" y="65.89999999999999">150.236</text>
<text class="lab2" x="591.9" y="60.099999999999994">LA GUAJIRA</text><text class="lab2" x="591.9" y="65.3">150.236</text>
<text class="lab2s" x="522.0" y="68.60000000000001">ATLÁNTICO</text><text class="lab2s" x="522.0" y="73.8">393.147</text>
<text class="lab2" x="521.5" y="68.0">ATLÁNTICO</text><text class="lab2" x="521.5" y="73.2">393.147</text>
<text class="lab2s" x="545.5" y="89.30000000000001">MAGDALENA</text><text class="lab2s" x="545.5" y="94.5">262.473</text>
<text class="lab2" x="545" y="88.7">MAGDALENA</text><text class="lab2" x="545" y="93.9">262.473</text>
<text class="lab2s" x="565.0" y="101.80000000000001">CESAR</text><text class="lab2s" x="565.0" y="107.0">239.417</text>
<text class="lab2" x="564.5" y="101.2">CESAR</text><text class="lab2" x="564.5" y="106.4">239.417</text>
<text class="lab2s" x="523.9" y="113.5">SUCRE</text><text class="lab2s" x="523.9" y="118.69999999999999">179.028</text>
<text class="lab2" x="523.4" y="112.89999999999999">SUCRE</text><text class="lab2" x="523.4" y="118.1">179.028</text>
<text class="lab2s" x="545.5" y="132.3">BOLÍVAR</text><text class="lab2s" x="545.5" y="137.5">398.540</text>
<text class="lab2" x="545" y="131.70000000000002">BOLÍVAR</text><text class="lab2" x="545" y="136.9">398.540</text>
<text class="lab2s" x="508.3" y="133.9">CÓRDOBA</text><text class="lab2s" x="508.3" y="139.1">341.611</text>
<text class="lab2" x="507.8" y="133.3">CÓRDOBA</text><text class="lab2" x="507.8" y="138.5">341.611</text>
<text class="lab2s" x="588.5" y="137.0">NORTE DE SANTANDER</text><text class="lab2s" x="588.5" y="142.2">333.102</text>
<text class="lab2" x="588" y="136.4">NORTE DE SANTANDER</text><text class="lab2" x="588" y="141.6">333.102</text>
<text class="lab2s" x="518.0" y="180.0">ANTIOQUIA</text><text class="lab2s" x="518.0" y="185.2">815.217</text>
<text class="lab2" x="517.5" y="179.4">ANTIOQUIA</text><text class="lab2" x="517.5" y="184.6">815.217</text>
<text class="lab2s" x="566.9" y="175.3">SANTANDER</text><text class="lab2s" x="566.9" y="180.5">504.230</text>
<text class="lab2" x="566.4" y="174.70000000000002">SANTANDER</text><text class="lab2" x="566.4" y="179.9">504.230</text>
<text class="lab2s" x="629.5" y="175.3">ARAUCA</text><text class="lab2s" x="629.5" y="180.5">64.570</text>
<text class="lab2" x="629" y="174.70000000000002">ARAUCA</text><text class="lab2" x="629" y="179.9">64.570</text>
<text class="lab2s" x="480.9" y="191.70000000000002">CHOCÓ</text><text class="lab2s" x="480.9" y="196.9">83.225</text>
<text class="lab2" x="480.4" y="191.10000000000002">CHOCÓ</text><text class="lab2" x="480.4" y="196.3">83.225</text>
<text class="lab2s" x="578.7" y="193.70000000000002">BOYACÁ</text><text class="lab2s" x="578.7" y="198.9">213.640</text>
<text class="lab2" x="578.2" y="193.10000000000002">BOYACÁ</text><text class="lab2" x="578.2" y="198.3">213.640</text>
<text class="lab2s" x="613.9" y="207.4">CASANARE</text><text class="lab2s" x="613.9" y="212.6">85.102</text>
<text class="lab2" x="613.4" y="206.8">CASANARE</text><text class="lab2" x="613.4" y="212.0">85.102</text>
<text class="lab2s" x="523.9" y="203.4">CALDAS</text><text class="lab2s" x="523.9" y="208.6">193.115</text>
<text class="lab2" x="523.4" y="202.8">CALDAS</text><text class="lab2" x="523.4" y="208.0">193.115</text>
<text class="lab2s" x="484.8" y="213.3">RISARALDA</text><text class="lab2s" x="484.8" y="218.5">212.380</text>
<text class="lab2" x="484.3" y="212.70000000000002">RISARALDA</text><text class="lab2" x="484.3" y="217.9">212.380</text>
<text class="lab2s" x="555.2" y="215.20000000000002">CUNDINAMARCA</text><text class="lab2s" x="555.2" y="220.4">660.115</text>
<text class="lab2" x="554.7" y="214.60000000000002">CUNDINAMARCA</text><text class="lab2" x="554.7" y="219.8">660.115</text>
<text class="lab2s" x="670.5" y="219.9">VICHADA</text><text class="lab2s" x="670.5" y="225.1">17.532</text>
<text class="lab2" x="670" y="219.3">VICHADA</text><text class="lab2" x="670" y="224.5">17.532</text>
<text class="lab2s" x="522.7" y="225.8">QUINDÍO</text><text class="lab2s" x="522.7" y="231.0">126.010</text>
<text class="lab2" x="522.2" y="225.20000000000002">QUINDÍO</text><text class="lab2" x="522.2" y="230.4">126.010</text>
<text class="lab2s" x="486.8" y="244.9">VALLE DEL CAUCA</text><text class="lab2s" x="486.8" y="250.1">1.085.000</text>
<text class="lab2" x="486.3" y="244.3">VALLE DEL CAUCA</text><text class="lab2" x="486.3" y="249.5">1.085.000</text>
<text class="lab2s" x="525.9" y="242.9">TOLIMA</text><text class="lab2s" x="525.9" y="248.1">292.037</text>
<text class="lab2" x="525.4" y="242.3">TOLIMA</text><text class="lab2" x="525.4" y="247.5">292.037</text>
<text class="lab2s" x="582.5" y="254.6">META</text><text class="lab2s" x="582.5" y="259.8">213.108</text>
<text class="lab2" x="582" y="254.0">META</text><text class="lab2" x="582" y="259.2">213.108</text>
<text class="lab2s" x="680.3" y="274.2">GUAINÍA</text><text class="lab2s" x="680.3" y="279.40000000000003">8.250</text>
<text class="lab2" x="679.8" y="273.6">GUAINÍA</text><text class="lab2" x="679.8" y="278.8">8.250</text>
<text class="lab2s" x="480.9" y="276.15">CAUCA</text><text class="lab2s" x="480.9" y="281.35">222.086</text>
<text class="lab2" x="480.4" y="275.55">CAUCA</text><text class="lab2" x="480.4" y="280.75">222.086</text>
<text class="lab2s" x="518.0" y="274.2">HUILA</text><text class="lab2s" x="518.0" y="279.40000000000003">212.935</text>
<text class="lab2" x="517.5" y="273.6">HUILA</text><text class="lab2" x="517.5" y="278.8">212.935</text>
<text class="lab2s" x="600.2" y="291.79999999999995">GUAVIARE</text><text class="lab2s" x="600.2" y="297.0">22.580</text>
<text class="lab2" x="599.7" y="291.2">GUAVIARE</text><text class="lab2" x="599.7" y="296.4">22.580</text>
<text class="lab2s" x="457.4" y="298.4">NARIÑO</text><text class="lab2s" x="457.4" y="303.6">349.898</text>
<text class="lab2" x="456.9" y="297.8">NARIÑO</text><text class="lab2" x="456.9" y="303.0">349.898</text>
<text class="lab2s" x="508.3" y="325.0">PUTUMAYO</text><text class="lab2s" x="508.3" y="330.20000000000005">76.227</text>
<text class="lab2" x="507.8" y="324.40000000000003">PUTUMAYO</text><text class="lab2" x="507.8" y="329.6">76.227</text>
<text class="lab2s" x="555.2" y="320.0">CAQUETÁ</text><text class="lab2s" x="555.2" y="325.20000000000005">92.810</text>
<text class="lab2" x="554.7" y="319.40000000000003">CAQUETÁ</text><text class="lab2" x="554.7" y="324.6">92.810</text>
<text class="lab2s" x="639.3" y="321.09999999999997">VAUPÉS</text><text class="lab2s" x="639.3" y="326.3">8.325</text>
<text class="lab2" x="638.8" y="320.5">VAUPÉS</text><text class="lab2" x="638.8" y="325.7">8.325</text>
<text class="lab2s" x="621.7" y="370.79999999999995">AMAZONAS</text><text class="lab2s" x="621.7" y="376.0">9.035</text>
<text class="lab2" x="621.2" y="370.2">AMAZONAS</text><text class="lab2" x="621.2" y="375.4">9.035</text>
<text x="429.4" y="46" font-family="DejaVu Sans, sans-serif" font-weight="bold" font-size="3.9" fill="#111" textLength="64.4" lengthAdjust="spacingAndGlyphs">SAN ANDRÉS Y PROVIDENCIA</text>
<text x="461.5" y="50" font-family="DejaVu Sans, sans-serif" font-weight="bold" font-size="3.4" fill="#333" text-anchor="middle">6.520</text>
<rect x="427.5" y="457.5" width="13" height="6.6" fill="#f3f3d2" stroke="#383838" stroke-width="0.8"/>
<text class="li" x="444.1" y="463.3" textLength="28.3" lengthAdjust="spacingAndGlyphs">AICO (1)</text>
<rect x="427.5" y="468.2" width="13" height="6.6" fill="#d020ec" stroke="#383838" stroke-width="0.8"/>
<text class="li" x="444.1" y="474.0" textLength="59.1" lengthAdjust="spacingAndGlyphs">Cambio Radical (5)</text>
<rect x="427.5" y="478.9" width="13" height="6.6" fill="#05b8f8" stroke="#383838" stroke-width="0.8"/>
<text class="li" x="444.1" y="484.7" textLength="73.7" lengthAdjust="spacingAndGlyphs">Centro Democrático (1)</text>
<rect x="427.5" y="489.4" width="13" height="6.6" fill="#b2da68" stroke="#383838" stroke-width="0.8"/>
<text class="li" x="444.1" y="495.2" textLength="42.8" lengthAdjust="spacingAndGlyphs">Coalición (16)</text>
<rect x="534.3" y="454" width="13" height="6.6" fill="#1010d8" stroke="#383838" stroke-width="0.8"/>
<text class="li" x="550.5" y="459.8" textLength="75.0" lengthAdjust="spacingAndGlyphs">Partido Conservador (1)</text>
<rect x="534.3" y="464.4" width="13" height="6.6" fill="#f8a500" stroke="#383838" stroke-width="0.8"/>
<text class="li" x="550.5" y="470.2" textLength="57.2" lengthAdjust="spacingAndGlyphs">Partido de la U (3)</text>
<rect x="534.3" y="474.8" width="13" height="6.6" fill="#f90505" stroke="#383838" stroke-width="0.8"/>
<text class="li" x="550.5" y="480.6" textLength="55.6" lengthAdjust="spacingAndGlyphs">Partido Liberal (4)</text>
<rect x="534.3" y="485.3" width="13" height="6.6" fill="#2e8a5a" stroke="#383838" stroke-width="0.8"/>
<text class="li" x="550.5" y="491.1" textLength="53.4" lengthAdjust="spacingAndGlyphs">Partido Verde (1)</text>
<g transform="translate(307.2,485) scale(1.0)"><polygon points="0,0 9,3.5 12.5,8 7,6" fill="#e3c62b"/><polygon points="5,4 12.5,8 11,12.5" fill="#9cbf3a"/><polygon points="9,4 17,3 18,8 13,12" fill="#3aa0a0"/><polygon points="15,1.5 18.5,0.8 19.5,3.5 17,4" fill="#c0603a"/><polygon points="7,12.5 13,10 12,14.5" fill="#8a2a3a"/><polygon points="11,9 16,7 13,14" fill="#5fae4a"/></g>
<text x="326" y="500.8" font-family="DejaVu Sans, sans-serif" font-size="5" fill="#4a9bc8" textLength="24.8" lengthAdjust="spacingAndGlyphs">Fundación</text>
<text x="310" y="506.5" font-family="DejaVu Sans, sans-serif" font-weight="bold" font-size="5" fill="#1d2a48" textLength="49.7" lengthAdjust="spacingAndGlyphs">Paz &amp; Reconciliación</text>
<g transform="translate(704,486.4) scale(1.0)"><polygon points="0,0 9,3.5 12.5,8 7,6" fill="#e3c62b"/><polygon points="5,4 12.5,8 11,12.5" fill="#9cbf3a"/><polygon points="9,4 17,3 18,8 13,12" fill="#3aa0a0"/><polygon points="15,1.5 18.5,0.8 19.5,3.5 17,4" fill="#c0603a"/><polygon points="7,12.5 13,10 12,14.5" fill="#8a2a3a"/><polygon points="11,9 16,7 13,14" fill="#5fae4a"/></g>
<text x="722.2" y="502.5" font-family="DejaVu Sans, sans-serif" font-size="5" fill="#4a9bc8" textLength="25.3" lengthAdjust="spacingAndGlyphs">Fundación</text>
<text x="706.3" y="508.1" font-family="DejaVu Sans, sans-serif" font-weight="bold" font-size="5" fill="#1d2a48" textLength="49.7" lengthAdjust="spacingAndGlyphs">Paz &amp; Reconciliación</text>
</g></svg></body></html>
